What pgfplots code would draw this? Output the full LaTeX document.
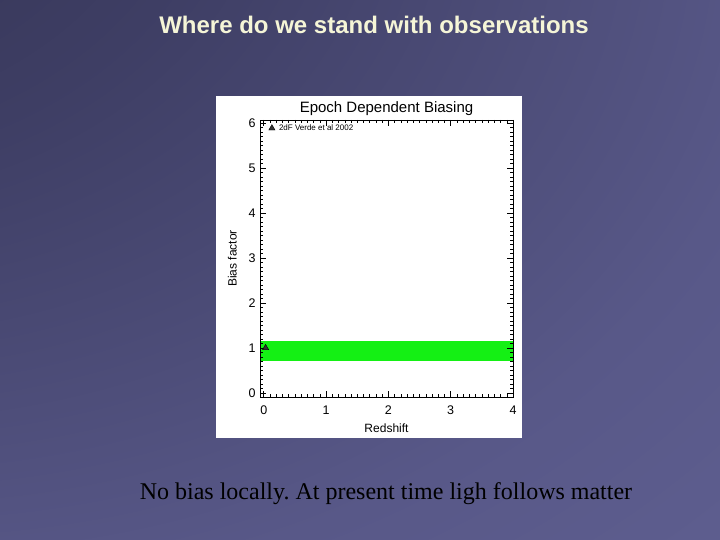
\documentclass[border=0pt]{standalone}
\usepackage{pgfplots}
\pgfplotsset{compat=1.18}
\usepackage{fontspec}
\setmainfont{Liberation Serif}
\newfontfamily\arial{Liberation Sans}
\definecolor{bgA}{RGB}{44,44,70}
\definecolor{bgB}{RGB}{62,62,100}
\definecolor{bgC}{RGB}{88,88,136}
\definecolor{bgD}{RGB}{102,102,153}
\definecolor{ttl}{RGB}{245,245,215}
\definecolor{band}{RGB}{20,240,20}
\pgfdeclareradialshading{slidebg}{\pgfpoint{-50bp}{50bp}}{color(0bp)=(bgA); color(30bp)=(bgB); color(60bp)=(bgC); color(92bp)=(bgD); color(150bp)=(bgD)}
\begin{document}
\frenchspacing
\begin{tikzpicture}[x=1pt,y=1pt]
\useasboundingbox (0,0) rectangle (720,-540);
\shade[shading=slidebg] (0,0) rectangle (720,-540);
\node[font=\arial\bfseries\fontsize{24}{27}\selectfont, text=ttl] at (374,-25) {Where do we stand with observations};
\node[font=\fontsize{24}{28}\selectfont, text=black] at (386,-494) {No bias locally. At present time ligh follows matter};
\fill[white] (216,-96) rectangle (522,-438);
\begin{axis}[
  at={(260pt,-397pt)}, anchor=south west,
  scale only axis, width=253pt, height=277pt,
  xmin=-0.06, xmax=4, ymin=-0.09, ymax=6.07,
  xtick={0,1,2,3,4}, ytick={0,1,2,3,4,5,6},
  minor x tick num=9, minor y tick num=9,
  tick align=inside, tick pos=both,
  major tick length=6pt, minor tick length=3pt,
  axis line style={black, line width=0.8pt},
  every tick/.style={black, line width=0.5pt},
  tick label style={font=\arial\fontsize{12.5}{14}\selectfont},
  xticklabel style={yshift=-5pt},
  yticklabel style={xshift=-1pt},
  /pgf/number format/assume math mode=true,
  xlabel={Redshift}, ylabel={Bias factor},
  label style={font=\arial\fontsize{12}{13}\selectfont},
  xlabel style={yshift=-3pt},
  ylabel style={yshift=5pt},
  title={Epoch Dependent Biasing},
  title style={font=\arial\fontsize{15}{16}\selectfont, yshift=-5pt},
  legend style={at={(0.03,0.995)}, anchor=north west, draw=none, fill=none, font=\arial\fontsize{8}{9}\selectfont, inner sep=1pt,
    nodes={inner xsep=4pt}},
  legend cell align=left,
  axis on top,
]
\addplot[fill=band, draw=none, forget plot] coordinates {(-0.06,0.71) (4,0.71) (4,1.16) (-0.06,1.16)} -- cycle;
\addplot[only marks, mark=triangle*, mark size=3.6pt, mark options={fill=black!80, draw=black}] coordinates {(0.03,1.0)};
\addlegendentry{2dF Verde et al 2002}
\end{axis}
\end{tikzpicture}
\end{document}
